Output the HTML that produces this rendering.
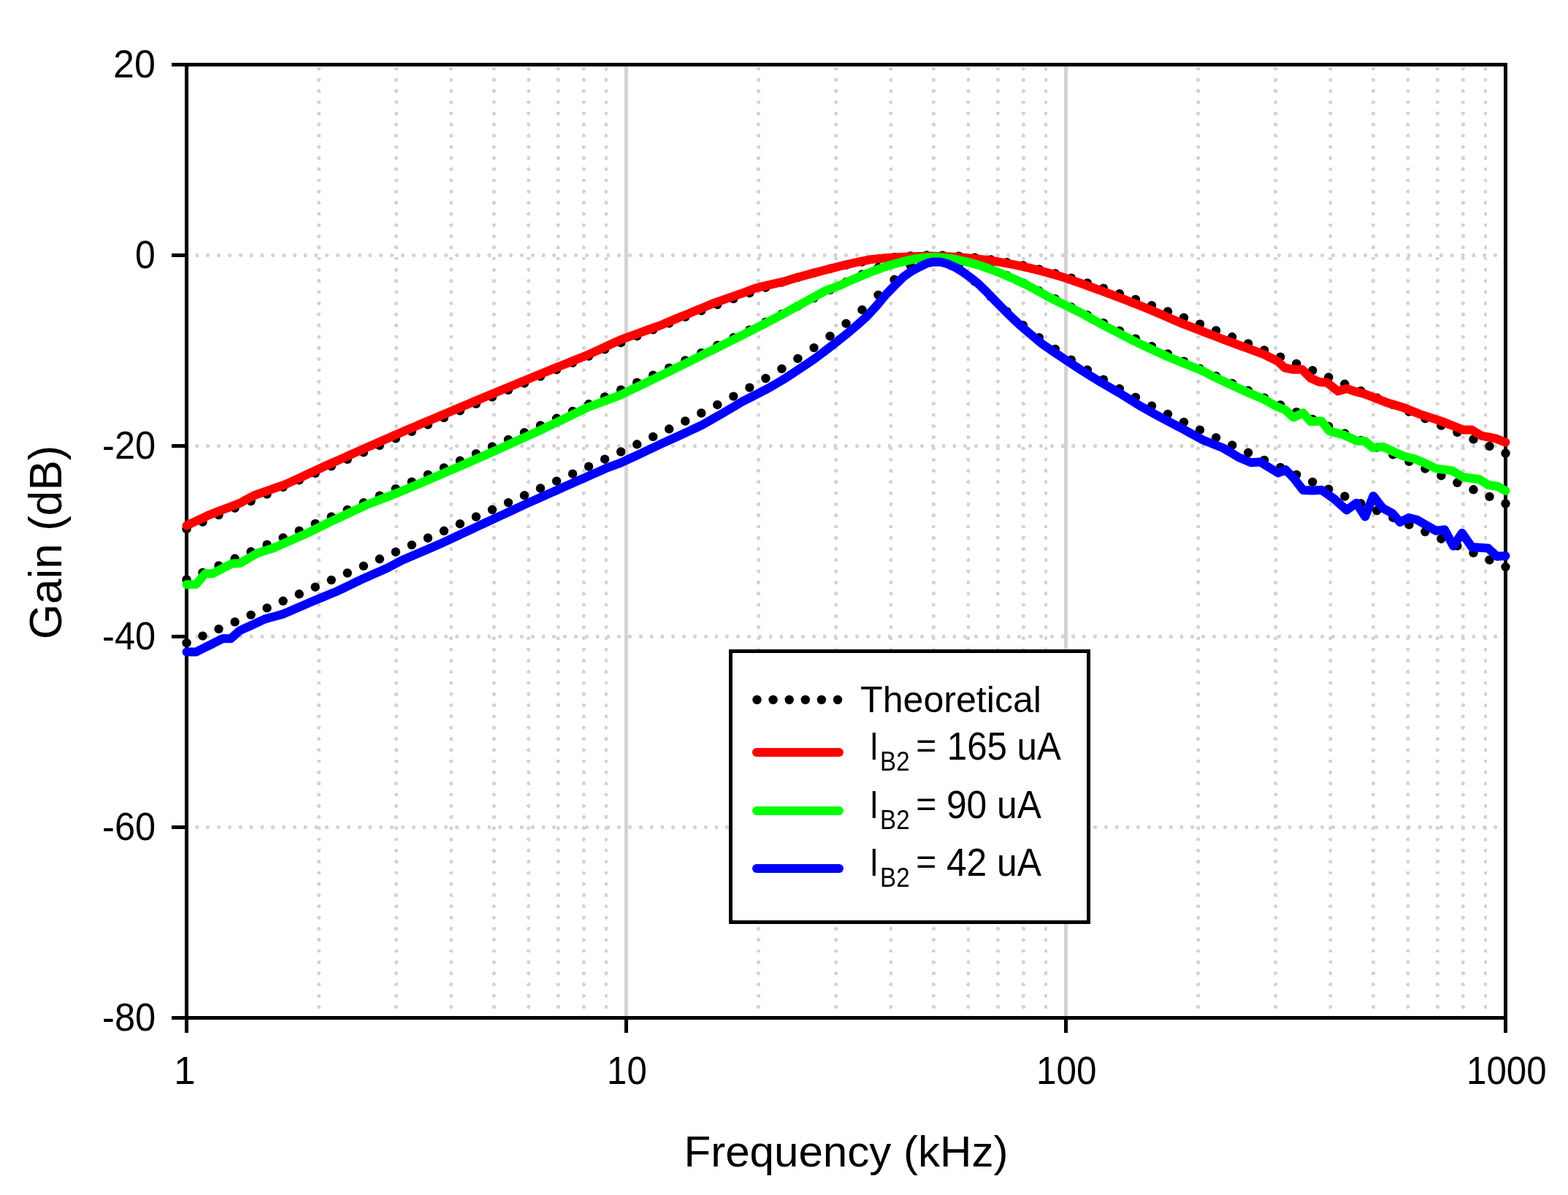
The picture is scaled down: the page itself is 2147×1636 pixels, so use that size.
<!DOCTYPE html>
<html><head><meta charset="utf-8"><title>Gain vs Frequency</title><style>
html,body{margin:0;padding:0;background:#fff;overflow:hidden;}
svg{display:block;}
text{font-family:"Liberation Sans",Arial,sans-serif;fill:#000;}
.gd{stroke:#d3d3d3;stroke-width:5;stroke-linecap:round;}
.gv{stroke-dasharray:0 15.29;}
.gh{stroke-dasharray:0 14.813;}
.gs{stroke:#d3d3d3;stroke-width:5;}
</style></head><body>
<svg width="2147" height="1636" viewBox="0 0 2147 1636" shape-rendering="crispEdges">
<rect width="2147" height="1636" fill="#fff"/>
<g><line x1="436.7" y1="94.1" x2="436.7" y2="1379" class="gd gv"/><line x1="542.7" y1="94.1" x2="542.7" y2="1379" class="gd gv"/><line x1="617.9" y1="94.1" x2="617.9" y2="1379" class="gd gv"/><line x1="676.3" y1="94.1" x2="676.3" y2="1379" class="gd gv"/><line x1="723.9" y1="94.1" x2="723.9" y2="1379" class="gd gv"/><line x1="764.2" y1="94.1" x2="764.2" y2="1379" class="gd gv"/><line x1="799.2" y1="94.1" x2="799.2" y2="1379" class="gd gv"/><line x1="830.0" y1="94.1" x2="830.0" y2="1379" class="gd gv"/><line x1="1038.7" y1="94.1" x2="1038.7" y2="1379" class="gd gv"/><line x1="1144.7" y1="94.1" x2="1144.7" y2="1379" class="gd gv"/><line x1="1219.9" y1="94.1" x2="1219.9" y2="1379" class="gd gv"/><line x1="1278.3" y1="94.1" x2="1278.3" y2="1379" class="gd gv"/><line x1="1325.9" y1="94.1" x2="1325.9" y2="1379" class="gd gv"/><line x1="1366.2" y1="94.1" x2="1366.2" y2="1379" class="gd gv"/><line x1="1401.2" y1="94.1" x2="1401.2" y2="1379" class="gd gv"/><line x1="1432.0" y1="94.1" x2="1432.0" y2="1379" class="gd gv"/><line x1="1640.7" y1="94.1" x2="1640.7" y2="1379" class="gd gv"/><line x1="1746.7" y1="94.1" x2="1746.7" y2="1379" class="gd gv"/><line x1="1821.9" y1="94.1" x2="1821.9" y2="1379" class="gd gv"/><line x1="1880.3" y1="94.1" x2="1880.3" y2="1379" class="gd gv"/><line x1="1927.9" y1="94.1" x2="1927.9" y2="1379" class="gd gv"/><line x1="1968.2" y1="94.1" x2="1968.2" y2="1379" class="gd gv"/><line x1="2003.2" y1="94.1" x2="2003.2" y2="1379" class="gd gv"/><line x1="2034.0" y1="94.1" x2="2034.0" y2="1379" class="gd gv"/><line x1="857.5" y1="91" x2="857.5" y2="1391" class="gs"/><line x1="1459.5" y1="91" x2="1459.5" y2="1391" class="gs"/><line x1="270" y1="349.5" x2="2048" y2="349.5" class="gd gh"/><line x1="270" y1="610.5" x2="2048" y2="610.5" class="gd gh"/><line x1="270" y1="871.5" x2="2048" y2="871.5" class="gd gh"/><line x1="270" y1="1132.5" x2="2048" y2="1132.5" class="gd gh"/></g>
<g stroke="#000" stroke-width="5">
<rect x="255.5" y="88.5" width="1806" height="1305" fill="none"/>
<line x1="235" y1="88.5" x2="256" y2="88.5"/><line x1="235" y1="349.5" x2="256" y2="349.5"/><line x1="235" y1="610.5" x2="256" y2="610.5"/><line x1="235" y1="871.5" x2="256" y2="871.5"/><line x1="235" y1="1132.5" x2="256" y2="1132.5"/><line x1="235" y1="1393.5" x2="256" y2="1393.5"/><line x1="255.5" y1="1393" x2="255.5" y2="1414"/><line x1="857.5" y1="1393" x2="857.5" y2="1414"/><line x1="1459.5" y1="1393" x2="1459.5" y2="1414"/><line x1="2061.5" y1="1393" x2="2061.5" y2="1414"/>
</g>
<g fill="#000" shape-rendering="auto"><circle cx="255.5" cy="724.2" r="6.2"/><circle cx="277.5" cy="714.6" r="6.2"/><circle cx="299.5" cy="705.1" r="6.2"/><circle cx="321.6" cy="695.5" r="6.2"/><circle cx="343.6" cy="686.0" r="6.2"/><circle cx="365.6" cy="676.5" r="6.2"/><circle cx="387.6" cy="666.9" r="6.2"/><circle cx="409.7" cy="657.4" r="6.2"/><circle cx="431.7" cy="647.9" r="6.2"/><circle cx="453.7" cy="638.3" r="6.2"/><circle cx="475.7" cy="628.8" r="6.2"/><circle cx="497.8" cy="619.3" r="6.2"/><circle cx="519.8" cy="609.8" r="6.2"/><circle cx="541.8" cy="600.3" r="6.2"/><circle cx="563.8" cy="590.8" r="6.2"/><circle cx="585.9" cy="581.3" r="6.2"/><circle cx="607.9" cy="571.8" r="6.2"/><circle cx="629.9" cy="562.3" r="6.2"/><circle cx="651.9" cy="552.9" r="6.2"/><circle cx="674.0" cy="543.5" r="6.2"/><circle cx="696.0" cy="534.1" r="6.2"/><circle cx="718.0" cy="524.7" r="6.2"/><circle cx="740.0" cy="515.3" r="6.2"/><circle cx="762.1" cy="506.0" r="6.2"/><circle cx="784.1" cy="496.7" r="6.2"/><circle cx="806.1" cy="487.5" r="6.2"/><circle cx="828.1" cy="478.3" r="6.2"/><circle cx="850.2" cy="469.2" r="6.2"/><circle cx="872.2" cy="460.2" r="6.2"/><circle cx="894.2" cy="451.3" r="6.2"/><circle cx="916.2" cy="442.5" r="6.2"/><circle cx="938.3" cy="433.9" r="6.2"/><circle cx="960.3" cy="425.4" r="6.2"/><circle cx="982.3" cy="417.1" r="6.2"/><circle cx="1004.3" cy="409.0" r="6.2"/><circle cx="1026.4" cy="401.2" r="6.2"/><circle cx="1048.4" cy="393.7" r="6.2"/><circle cx="1070.4" cy="386.6" r="6.2"/><circle cx="1092.4" cy="379.9" r="6.2"/><circle cx="1114.5" cy="373.6" r="6.2"/><circle cx="1136.5" cy="368.0" r="6.2"/><circle cx="1158.5" cy="362.9" r="6.2"/><circle cx="1180.5" cy="358.6" r="6.2"/><circle cx="1202.5" cy="355.0" r="6.2"/><circle cx="1224.6" cy="352.3" r="6.2"/><circle cx="1246.6" cy="350.5" r="6.2"/><circle cx="1268.6" cy="349.6" r="6.2"/><circle cx="1290.6" cy="349.7" r="6.2"/><circle cx="1312.7" cy="350.7" r="6.2"/><circle cx="1334.7" cy="352.6" r="6.2"/><circle cx="1356.7" cy="355.4" r="6.2"/><circle cx="1378.7" cy="359.1" r="6.2"/><circle cx="1400.8" cy="363.5" r="6.2"/><circle cx="1422.8" cy="368.6" r="6.2"/><circle cx="1444.8" cy="374.4" r="6.2"/><circle cx="1466.8" cy="380.7" r="6.2"/><circle cx="1488.9" cy="387.4" r="6.2"/><circle cx="1510.9" cy="394.6" r="6.2"/><circle cx="1532.9" cy="402.1" r="6.2"/><circle cx="1554.9" cy="410.0" r="6.2"/><circle cx="1577.0" cy="418.1" r="6.2"/><circle cx="1599.0" cy="426.4" r="6.2"/><circle cx="1621.0" cy="434.9" r="6.2"/><circle cx="1643.0" cy="443.6" r="6.2"/><circle cx="1665.1" cy="452.4" r="6.2"/><circle cx="1687.1" cy="461.3" r="6.2"/><circle cx="1709.1" cy="470.4" r="6.2"/><circle cx="1731.1" cy="479.5" r="6.2"/><circle cx="1753.2" cy="488.6" r="6.2"/><circle cx="1775.2" cy="497.9" r="6.2"/><circle cx="1797.2" cy="507.1" r="6.2"/><circle cx="1819.2" cy="516.5" r="6.2"/><circle cx="1841.3" cy="525.8" r="6.2"/><circle cx="1863.3" cy="535.2" r="6.2"/><circle cx="1885.3" cy="544.6" r="6.2"/><circle cx="1907.3" cy="554.1" r="6.2"/><circle cx="1929.4" cy="563.5" r="6.2"/><circle cx="1951.4" cy="573.0" r="6.2"/><circle cx="1973.4" cy="582.5" r="6.2"/><circle cx="1995.4" cy="591.9" r="6.2"/><circle cx="2017.5" cy="601.4" r="6.2"/><circle cx="2039.5" cy="610.9" r="6.2"/><circle cx="2061.5" cy="620.5" r="6.2"/><circle cx="255.5" cy="793.5" r="6.2"/><circle cx="277.5" cy="783.9" r="6.2"/><circle cx="299.5" cy="774.4" r="6.2"/><circle cx="321.6" cy="764.8" r="6.2"/><circle cx="343.6" cy="755.3" r="6.2"/><circle cx="365.6" cy="745.7" r="6.2"/><circle cx="387.6" cy="736.1" r="6.2"/><circle cx="409.7" cy="726.6" r="6.2"/><circle cx="431.7" cy="717.0" r="6.2"/><circle cx="453.7" cy="707.5" r="6.2"/><circle cx="475.7" cy="697.9" r="6.2"/><circle cx="497.8" cy="688.3" r="6.2"/><circle cx="519.8" cy="678.7" r="6.2"/><circle cx="541.8" cy="669.2" r="6.2"/><circle cx="563.8" cy="659.6" r="6.2"/><circle cx="585.9" cy="650.0" r="6.2"/><circle cx="607.9" cy="640.4" r="6.2"/><circle cx="629.9" cy="630.8" r="6.2"/><circle cx="651.9" cy="621.1" r="6.2"/><circle cx="674.0" cy="611.5" r="6.2"/><circle cx="696.0" cy="601.9" r="6.2"/><circle cx="718.0" cy="592.2" r="6.2"/><circle cx="740.0" cy="582.5" r="6.2"/><circle cx="762.1" cy="572.8" r="6.2"/><circle cx="784.1" cy="563.0" r="6.2"/><circle cx="806.1" cy="553.3" r="6.2"/><circle cx="828.1" cy="543.4" r="6.2"/><circle cx="850.2" cy="533.6" r="6.2"/><circle cx="872.2" cy="523.6" r="6.2"/><circle cx="894.2" cy="513.6" r="6.2"/><circle cx="916.2" cy="503.6" r="6.2"/><circle cx="938.3" cy="493.4" r="6.2"/><circle cx="960.3" cy="483.2" r="6.2"/><circle cx="982.3" cy="472.8" r="6.2"/><circle cx="1004.3" cy="462.3" r="6.2"/><circle cx="1026.4" cy="451.7" r="6.2"/><circle cx="1048.4" cy="440.9" r="6.2"/><circle cx="1070.4" cy="430.0" r="6.2"/><circle cx="1092.4" cy="419.0" r="6.2"/><circle cx="1114.5" cy="408.0" r="6.2"/><circle cx="1136.5" cy="396.9" r="6.2"/><circle cx="1158.5" cy="386.1" r="6.2"/><circle cx="1180.5" cy="375.8" r="6.2"/><circle cx="1202.5" cy="366.4" r="6.2"/><circle cx="1224.6" cy="358.5" r="6.2"/><circle cx="1246.6" cy="352.8" r="6.2"/><circle cx="1268.6" cy="349.8" r="6.2"/><circle cx="1290.6" cy="350.0" r="6.2"/><circle cx="1312.7" cy="353.4" r="6.2"/><circle cx="1334.7" cy="359.4" r="6.2"/><circle cx="1356.7" cy="367.5" r="6.2"/><circle cx="1378.7" cy="377.1" r="6.2"/><circle cx="1400.8" cy="387.5" r="6.2"/><circle cx="1422.8" cy="398.3" r="6.2"/><circle cx="1444.8" cy="409.3" r="6.2"/><circle cx="1466.8" cy="420.4" r="6.2"/><circle cx="1488.9" cy="431.4" r="6.2"/><circle cx="1510.9" cy="442.2" r="6.2"/><circle cx="1532.9" cy="453.0" r="6.2"/><circle cx="1554.9" cy="463.6" r="6.2"/><circle cx="1577.0" cy="474.1" r="6.2"/><circle cx="1599.0" cy="484.4" r="6.2"/><circle cx="1621.0" cy="494.7" r="6.2"/><circle cx="1643.0" cy="504.8" r="6.2"/><circle cx="1665.1" cy="514.9" r="6.2"/><circle cx="1687.1" cy="524.9" r="6.2"/><circle cx="1709.1" cy="534.8" r="6.2"/><circle cx="1731.1" cy="544.6" r="6.2"/><circle cx="1753.2" cy="554.5" r="6.2"/><circle cx="1775.2" cy="564.2" r="6.2"/><circle cx="1797.2" cy="574.0" r="6.2"/><circle cx="1819.2" cy="583.7" r="6.2"/><circle cx="1841.3" cy="593.4" r="6.2"/><circle cx="1863.3" cy="603.0" r="6.2"/><circle cx="1885.3" cy="612.7" r="6.2"/><circle cx="1907.3" cy="622.3" r="6.2"/><circle cx="1929.4" cy="631.9" r="6.2"/><circle cx="1951.4" cy="641.6" r="6.2"/><circle cx="1973.4" cy="651.2" r="6.2"/><circle cx="1995.4" cy="660.8" r="6.2"/><circle cx="2017.5" cy="670.3" r="6.2"/><circle cx="2039.5" cy="679.9" r="6.2"/><circle cx="2061.5" cy="689.5" r="6.2"/><circle cx="255.5" cy="880.2" r="6.2"/><circle cx="277.5" cy="870.6" r="6.2"/><circle cx="299.5" cy="861.1" r="6.2"/><circle cx="321.6" cy="851.5" r="6.2"/><circle cx="343.6" cy="841.9" r="6.2"/><circle cx="365.6" cy="832.4" r="6.2"/><circle cx="387.6" cy="822.8" r="6.2"/><circle cx="409.7" cy="813.3" r="6.2"/><circle cx="431.7" cy="803.7" r="6.2"/><circle cx="453.7" cy="794.1" r="6.2"/><circle cx="475.7" cy="784.5" r="6.2"/><circle cx="497.8" cy="774.9" r="6.2"/><circle cx="519.8" cy="765.3" r="6.2"/><circle cx="541.8" cy="755.7" r="6.2"/><circle cx="563.8" cy="746.1" r="6.2"/><circle cx="585.9" cy="736.5" r="6.2"/><circle cx="607.9" cy="726.8" r="6.2"/><circle cx="629.9" cy="717.2" r="6.2"/><circle cx="651.9" cy="707.5" r="6.2"/><circle cx="674.0" cy="697.8" r="6.2"/><circle cx="696.0" cy="688.1" r="6.2"/><circle cx="718.0" cy="678.3" r="6.2"/><circle cx="740.0" cy="668.5" r="6.2"/><circle cx="762.1" cy="658.6" r="6.2"/><circle cx="784.1" cy="648.7" r="6.2"/><circle cx="806.1" cy="638.7" r="6.2"/><circle cx="828.1" cy="628.7" r="6.2"/><circle cx="850.2" cy="618.5" r="6.2"/><circle cx="872.2" cy="608.3" r="6.2"/><circle cx="894.2" cy="597.9" r="6.2"/><circle cx="916.2" cy="587.3" r="6.2"/><circle cx="938.3" cy="576.5" r="6.2"/><circle cx="960.3" cy="565.5" r="6.2"/><circle cx="982.3" cy="554.2" r="6.2"/><circle cx="1004.3" cy="542.6" r="6.2"/><circle cx="1026.4" cy="530.6" r="6.2"/><circle cx="1048.4" cy="518.0" r="6.2"/><circle cx="1070.4" cy="504.9" r="6.2"/><circle cx="1092.4" cy="490.9" r="6.2"/><circle cx="1114.5" cy="476.1" r="6.2"/><circle cx="1136.5" cy="460.2" r="6.2"/><circle cx="1158.5" cy="442.9" r="6.2"/><circle cx="1180.5" cy="424.2" r="6.2"/><circle cx="1202.5" cy="403.9" r="6.2"/><circle cx="1224.6" cy="382.8" r="6.2"/><circle cx="1246.6" cy="363.3" r="6.2"/><circle cx="1268.6" cy="350.9" r="6.2"/><circle cx="1290.6" cy="351.8" r="6.2"/><circle cx="1312.7" cy="365.4" r="6.2"/><circle cx="1334.7" cy="385.4" r="6.2"/><circle cx="1356.7" cy="406.4" r="6.2"/><circle cx="1378.7" cy="426.5" r="6.2"/><circle cx="1400.8" cy="445.1" r="6.2"/><circle cx="1422.8" cy="462.2" r="6.2"/><circle cx="1444.8" cy="478.0" r="6.2"/><circle cx="1466.8" cy="492.7" r="6.2"/><circle cx="1488.9" cy="506.5" r="6.2"/><circle cx="1510.9" cy="519.6" r="6.2"/><circle cx="1532.9" cy="532.1" r="6.2"/><circle cx="1554.9" cy="544.0" r="6.2"/><circle cx="1577.0" cy="555.6" r="6.2"/><circle cx="1599.0" cy="566.9" r="6.2"/><circle cx="1621.0" cy="577.9" r="6.2"/><circle cx="1643.0" cy="588.6" r="6.2"/><circle cx="1665.1" cy="599.1" r="6.2"/><circle cx="1687.1" cy="609.5" r="6.2"/><circle cx="1709.1" cy="619.8" r="6.2"/><circle cx="1731.1" cy="629.9" r="6.2"/><circle cx="1753.2" cy="640.0" r="6.2"/><circle cx="1775.2" cy="649.9" r="6.2"/><circle cx="1797.2" cy="659.9" r="6.2"/><circle cx="1819.2" cy="669.7" r="6.2"/><circle cx="1841.3" cy="679.5" r="6.2"/><circle cx="1863.3" cy="689.3" r="6.2"/><circle cx="1885.3" cy="699.0" r="6.2"/><circle cx="1907.3" cy="708.7" r="6.2"/><circle cx="1929.4" cy="718.4" r="6.2"/><circle cx="1951.4" cy="728.0" r="6.2"/><circle cx="1973.4" cy="737.7" r="6.2"/><circle cx="1995.4" cy="747.3" r="6.2"/><circle cx="2017.5" cy="756.9" r="6.2"/><circle cx="2039.5" cy="766.5" r="6.2"/><circle cx="2061.5" cy="776.1" r="6.2"/></g>
<g fill="none" stroke-width="12" stroke-linejoin="round" stroke-linecap="round" shape-rendering="auto">
<path d="M255.5,719.5 L266.4,714.4 L277.4,709.3 L284.8,705.6 L293.7,702.2 L302.7,698.7 L311.6,695.3 L320.6,691.8 L329.5,688.4 L337.0,684.0 L348.4,678.1 L356.8,675.1 L365.3,672.2 L373.7,669.2 L382.2,666.3 L390.6,663.3 L398.6,659.6 L406.7,655.9 L414.7,652.2 L422.7,648.4 L430.7,644.7 L438.8,641.0 L446.8,637.3 L454.8,633.7 L462.9,630.2 L470.9,626.6 L478.9,623.0 L486.9,619.4 L495.0,615.9 L503.0,612.3 L512.4,608.2 L521.8,604.1 L531.2,599.9 L540.6,595.8 L550.0,591.7 L559.1,587.8 L568.2,584.0 L577.3,580.1 L586.3,576.3 L595.4,572.4 L604.5,568.6 L613.6,564.7 L622.7,560.9 L631.7,557.1 L640.8,553.2 L649.9,549.4 L659.0,545.6 L668.0,541.8 L677.1,538.0 L686.2,534.2 L695.3,530.5 L704.4,526.7 L713.4,523.0 L722.5,519.3 L731.6,515.5 L740.7,511.8 L749.8,508.1 L758.9,504.4 L768.0,500.7 L777.0,497.1 L786.1,493.4 L795.2,489.7 L804.3,486.1 L813.4,481.9 L822.6,477.7 L831.7,473.5 L840.9,469.3 L850.0,465.1 L859.3,461.7 L868.6,458.3 L878.0,454.9 L887.3,451.5 L896.6,448.1 L905.9,444.8 L915.2,440.8 L924.5,436.9 L933.8,433.0 L943.2,429.2 L952.5,425.3 L961.8,421.5 L975.0,415.9 L983.5,412.8 L992.1,409.8 L1000.6,406.8 L1009.2,403.9 L1017.7,401.0 L1026.2,397.7 L1034.6,394.5 L1044.3,392.1 L1054.1,389.8 L1063.8,387.6 L1073.6,385.4 L1082.9,382.6 L1092.2,379.8 L1101.5,377.2 L1110.8,374.6 L1120.1,372.2 L1129.4,369.8 L1139.7,367.1 L1150.0,364.5 L1158.4,362.4 L1166.9,360.5 L1175.3,358.6 L1183.8,356.9 L1192.2,355.3 L1200.6,354.4 L1209.1,353.6 L1217.5,353.0 L1226.0,352.5 L1234.4,352.1 L1242.8,351.6 L1251.2,351.2 L1259.7,350.9 L1268.1,350.8 L1276.5,350.8 L1284.9,350.9 L1293.4,351.2 L1301.8,351.6 L1310.3,352.1 L1318.7,352.8 L1327.1,353.5 L1335.6,354.3 L1344.0,355.2 L1352.5,356.2 L1360.9,357.4 L1369.3,358.8 L1377.7,360.3 L1386.2,361.9 L1394.6,363.6 L1403.0,365.4 L1412.4,367.7 L1421.8,370.0 L1431.2,372.5 L1440.6,375.1 L1450.0,377.8 L1458.0,380.4 L1466.1,383.1 L1474.1,385.9 L1482.1,388.7 L1490.1,391.6 L1498.2,394.5 L1506.2,397.5 L1514.2,400.4 L1522.3,403.4 L1530.3,406.5 L1538.4,409.5 L1546.4,412.7 L1554.5,415.8 L1562.5,419.0 L1570.5,422.3 L1578.6,425.7 L1586.6,429.1 L1594.6,432.5 L1602.6,435.9 L1610.7,439.4 L1618.7,442.9 L1626.7,446.0 L1634.8,449.0 L1642.8,452.1 L1650.9,455.3 L1658.9,458.4 L1667.0,461.5 L1675.0,464.7 L1683.0,467.6 L1691.1,470.6 L1699.1,473.5 L1707.1,476.5 L1715.1,479.4 L1723.2,482.4 L1731.2,485.4 L1740.6,490.2 L1750.0,495.0 L1758.9,503.5 L1770.9,505.8 L1782.8,505.8 L1794.7,517.7 L1806.6,522.9 L1817.1,523.7 L1832.0,535.6 L1843.9,531.9 L1854.3,535.6 L1866.3,538.6 L1875.2,541.9 L1884.1,545.3 L1899.0,551.2 L1910.2,554.5 L1921.4,557.9 L1932.6,562.4 L1943.8,566.9 L1953.7,570.1 L1963.7,573.4 L1973.6,576.6 L1983.5,580.6 L1993.5,584.5 L2003.4,588.5 L2015.3,588.5 L2028.7,596.7 L2038.4,598.5 L2048.1,600.4 L2061.5,605.6" stroke="#ff0000"/>
<path d="M255.5,800.3 L268.3,800.1 L281.0,785.3 L290.8,785.3 L299.7,780.8 L308.6,776.2 L317.5,771.7 L328.7,771.0 L340.6,764.1 L352.6,757.2 L363.1,753.9 L373.7,750.6 L382.7,746.7 L391.7,742.7 L400.7,738.8 L409.7,734.8 L418.7,730.9 L428.1,726.3 L437.4,721.6 L446.8,717.0 L454.8,713.2 L462.9,709.5 L470.9,705.7 L478.9,702.0 L486.9,698.2 L495.0,694.5 L503.0,690.7 L512.4,687.1 L521.8,683.4 L531.2,679.8 L540.6,676.1 L550.0,672.5 L559.1,668.6 L568.2,664.7 L577.3,660.9 L586.3,657.0 L595.4,653.1 L604.5,649.2 L613.6,645.3 L622.7,641.3 L631.7,637.4 L640.8,633.4 L649.9,629.4 L659.0,625.5 L668.0,621.5 L677.1,617.5 L686.2,613.4 L695.3,609.3 L704.4,605.1 L713.4,601.0 L722.5,596.9 L731.6,592.7 L740.7,588.6 L749.8,584.2 L758.9,579.9 L768.0,575.5 L777.0,571.1 L786.1,566.7 L795.2,562.3 L804.3,557.9 L813.4,554.5 L822.6,551.0 L831.7,547.6 L840.9,544.2 L850.0,540.7 L859.3,536.2 L868.6,531.7 L878.0,527.3 L887.3,522.7 L896.6,518.2 L905.9,513.7 L915.2,509.1 L924.5,504.5 L933.8,499.9 L943.2,495.3 L952.5,490.7 L961.8,486.0 L971.1,481.4 L980.4,476.8 L989.8,472.2 L999.1,467.5 L1008.4,462.8 L1017.7,458.1 L1027.0,453.3 L1036.3,448.6 L1045.7,443.8 L1055.0,438.9 L1064.3,434.1 L1073.6,429.2 L1082.9,424.1 L1092.2,419.0 L1101.5,413.8 L1110.8,408.7 L1120.1,403.5 L1129.4,398.4 L1139.7,394.5 L1150.0,390.7 L1158.4,386.9 L1166.9,383.1 L1175.3,379.5 L1183.8,375.9 L1192.2,372.5 L1200.6,369.3 L1209.1,366.2 L1217.5,363.5 L1226.0,361.0 L1234.4,358.8 L1242.8,356.6 L1251.2,354.8 L1259.7,353.5 L1268.1,352.5 L1276.5,352.1 L1284.9,352.2 L1293.4,352.9 L1301.8,353.9 L1310.3,355.5 L1318.7,357.4 L1327.1,359.4 L1335.6,361.7 L1344.0,364.3 L1352.5,367.2 L1360.9,370.3 L1369.3,373.7 L1377.7,377.3 L1386.2,380.9 L1394.6,384.7 L1403.0,388.6 L1411.2,393.1 L1419.5,397.6 L1427.7,402.1 L1435.9,406.7 L1444.7,411.0 L1453.5,415.4 L1462.4,419.7 L1471.2,424.0 L1480.0,428.3 L1490.0,433.9 L1500.0,439.5 L1508.3,443.8 L1516.6,448.2 L1524.9,452.5 L1533.1,456.8 L1541.4,461.0 L1549.7,465.3 L1558.0,469.5 L1567.8,474.0 L1577.5,478.5 L1587.2,483.0 L1597.0,487.5 L1608.5,492.3 L1620.0,497.0 L1634.5,502.8 L1649.8,509.1 L1660.0,514.9 L1671.7,520.3 L1683.3,525.7 L1694.9,531.1 L1706.6,536.5 L1718.2,541.4 L1729.9,546.2 L1739.2,551.5 L1748.5,556.7 L1760.0,561.3 L1770.9,571.4 L1784.3,565.4 L1794.7,577.3 L1809.6,576.6 L1820.0,590.0 L1829.7,592.6 L1839.4,595.2 L1848.3,599.3 L1857.3,603.4 L1869.2,604.1 L1879.7,613.1 L1893.1,611.6 L1906.5,617.6 L1921.4,624.3 L1936.3,628.0 L1951.2,634.0 L1966.1,641.4 L1977.3,642.9 L1988.5,644.4 L2003.4,653.3 L2014.6,654.8 L2025.7,656.3 L2037.7,663.8 L2051.1,666.0 L2061.5,672.0" stroke="#00ff00"/>
<path d="M255.5,892.6 L268.3,892.6 L277.4,888.0 L286.6,883.5 L295.7,878.9 L304.8,874.3 L316.0,874.3 L328.7,863.1 L337.1,859.2 L345.6,855.4 L354.1,851.5 L362.5,847.6 L370.9,845.3 L379.4,842.9 L387.8,840.6 L396.8,836.7 L405.8,832.8 L414.8,829.0 L423.8,825.1 L432.8,821.2 L442.2,817.4 L451.5,813.5 L460.9,809.7 L469.7,805.5 L478.4,801.3 L487.2,797.0 L496.0,792.8 L504.8,788.9 L513.6,785.1 L522.4,781.2 L531.2,777.3 L540.6,772.3 L550.0,767.2 L559.3,763.2 L568.6,759.2 L578.0,755.2 L587.3,751.2 L596.6,747.2 L605.9,743.2 L615.2,738.8 L624.5,734.5 L633.8,730.1 L643.2,725.7 L652.5,721.4 L661.8,717.0 L671.1,712.7 L680.4,708.4 L689.8,704.1 L699.1,699.8 L708.4,695.4 L717.7,691.1 L727.0,686.9 L736.3,682.8 L745.7,678.6 L755.0,674.4 L764.3,670.2 L773.6,666.0 L782.9,661.9 L792.2,657.8 L801.5,653.7 L810.9,649.5 L820.2,645.4 L829.5,641.2 L839.8,637.4 L850.0,633.6 L859.3,629.3 L868.6,625.0 L878.0,620.6 L887.3,616.2 L896.6,611.8 L905.9,607.4 L915.2,603.2 L924.5,599.0 L933.8,594.7 L943.2,590.4 L952.5,586.0 L961.8,581.6 L971.1,576.3 L980.4,571.0 L989.8,565.6 L999.1,560.1 L1008.4,554.6 L1017.7,549.0 L1027.8,544.0 L1037.9,538.9 L1048.0,533.7 L1056.0,529.2 L1064.0,524.6 L1072.0,519.9 L1083.0,512.9 L1094.0,505.6 L1105.0,498.3 L1116.0,490.7 L1127.0,482.5 L1138.0,473.9 L1146.7,467.3 L1155.3,460.4 L1164.0,453.3 L1175.0,443.9 L1186.0,434.1 L1200.0,418.9 L1213.3,403.0 L1224.9,391.0 L1236.6,379.4 L1248.2,371.1 L1259.9,365.0 L1269.6,360.3 L1279.3,358.4 L1288.3,358.7 L1297.3,361.2 L1308.4,366.2 L1319.6,373.2 L1329.2,380.3 L1338.7,387.7 L1350.0,398.6 L1359.5,408.5 L1369.3,418.6 L1379.1,428.4 L1388.9,437.9 L1398.7,447.0 L1408.3,455.2 L1417.5,463.0 L1426.7,470.6 L1438.3,478.7 L1450.0,486.4 L1458.0,491.9 L1466.1,497.3 L1474.1,502.6 L1482.1,507.7 L1490.1,512.8 L1498.2,517.7 L1506.2,522.6 L1515.6,528.2 L1525.0,533.6 L1534.4,539.0 L1543.8,544.9 L1553.1,550.8 L1562.5,556.6 L1571.9,561.8 L1581.2,566.9 L1590.6,572.0 L1600.0,577.0 L1609.3,581.9 L1618.7,586.8 L1628.1,592.0 L1637.4,597.1 L1646.8,602.2 L1656.2,606.0 L1665.6,609.8 L1675.0,613.5 L1686.2,620.2 L1697.4,626.8 L1712.9,633.2 L1725.6,632.5 L1733.7,637.5 L1741.9,642.5 L1750.0,647.5 L1760.4,643.1 L1772.4,655.7 L1784.3,671.0 L1797.7,671.5 L1809.6,670.8 L1818.5,677.2 L1827.5,683.5 L1835.7,691.0 L1843.9,698.4 L1857.3,688.7 L1869.2,707.3 L1880.4,679.0 L1893.1,695.4 L1906.5,702.8 L1916.9,714.8 L1928.9,708.8 L1940.8,711.8 L1949.2,716.8 L1957.7,721.7 L1966.1,726.7 L1978.0,725.2 L1990.0,747.6 L2001.9,729.7 L2015.3,749.0 L2026.5,749.8 L2037.7,750.5 L2049.6,761.7 L2061.5,761.0" stroke="#0000ff"/>
</g>
<g shape-rendering="auto" fill="#000"><rect x="1000.5" y="891.5" width="490" height="371" fill="#fff" stroke="#000" stroke-width="5"/><circle cx="1036.5" cy="958" r="6.2"/><circle cx="1058.6" cy="958" r="6.2"/><circle cx="1080.7" cy="958" r="6.2"/><circle cx="1102.8" cy="958" r="6.2"/><circle cx="1124.9" cy="958" r="6.2"/><circle cx="1147.0" cy="958" r="6.2"/><line x1="1036" y1="1030" x2="1149" y2="1030" stroke="#ff0000" stroke-width="12" stroke-linecap="round"/><line x1="1036" y1="1110" x2="1149" y2="1110" stroke="#00ff00" stroke-width="12" stroke-linecap="round"/><line x1="1036" y1="1189" x2="1149" y2="1189" stroke="#0000ff" stroke-width="12" stroke-linecap="round"/></g>
<g><text transform="matrix(1.0000 0 0 1.0278 155.00 105.90)" font-size="52">20</text><text transform="matrix(0.9600 0 0 1.0278 185.08 366.90)" font-size="52">0</text><text transform="matrix(0.9718 0 0 1.0278 140.06 627.90)" font-size="52">-20</text><text transform="matrix(0.9718 0 0 1.0278 140.06 888.90)" font-size="52">-40</text><text transform="matrix(0.9718 0 0 1.0278 140.06 1149.90)" font-size="52">-60</text><text transform="matrix(0.9718 0 0 1.0278 140.06 1410.90)" font-size="52">-80</text><text transform="matrix(1.0278 0 0 1.0278 238.08 1484.00)" font-size="52">1</text><text transform="matrix(0.9442 0 0 1.0278 831.12 1484.00)" font-size="52">10</text><text transform="matrix(0.9506 0 0 1.0278 1419.10 1484.00)" font-size="52">100</text><text transform="matrix(0.9473 0 0 1.0278 2008.01 1484.00)" font-size="52">1000</text><text transform="matrix(0.9540 0 0 0.9542 936.43 1596.99)" font-size="63">Frequency (kHz)</text><text transform="matrix(0 -0.9859 0.9932 0 84.29 875.26)" font-size="63">Gain (dB)</text><text transform="matrix(0.9644 0 0 0.9763 1178.04 975.00)" font-size="52">Theoretical</text><text transform="matrix(0.8400 0 0 1.0278 1190.70 1040.00)" font-size="52">I</text><text transform="matrix(0.9730 0 0 1.0696 1205.08 1055.00)" font-size="34">B2</text><text transform="matrix(0.9240 0 0 0.9353 1254.13 1037.32)" font-size="52">=</text><text transform="matrix(0.9466 0 0 1.0444 1296.81 1040.40)" font-size="52">165 uA</text><text transform="matrix(0.8400 0 0 1.0278 1190.70 1120.00)" font-size="52">I</text><text transform="matrix(0.9730 0 0 1.0696 1205.08 1135.00)" font-size="34">B2</text><text transform="matrix(0.9240 0 0 0.9353 1254.13 1117.32)" font-size="52">=</text><text transform="matrix(0.9567 0 0 1.0444 1295.89 1120.40)" font-size="52">90 uA</text><text transform="matrix(0.8400 0 0 1.0278 1190.70 1199.00)" font-size="52">I</text><text transform="matrix(0.9730 0 0 1.0696 1205.08 1214.00)" font-size="34">B2</text><text transform="matrix(0.9240 0 0 0.9353 1254.13 1196.32)" font-size="52">=</text><text transform="matrix(0.9563 0 0 1.0444 1295.94 1199.40)" font-size="52">42 uA</text></g>
</svg>
</body></html>
